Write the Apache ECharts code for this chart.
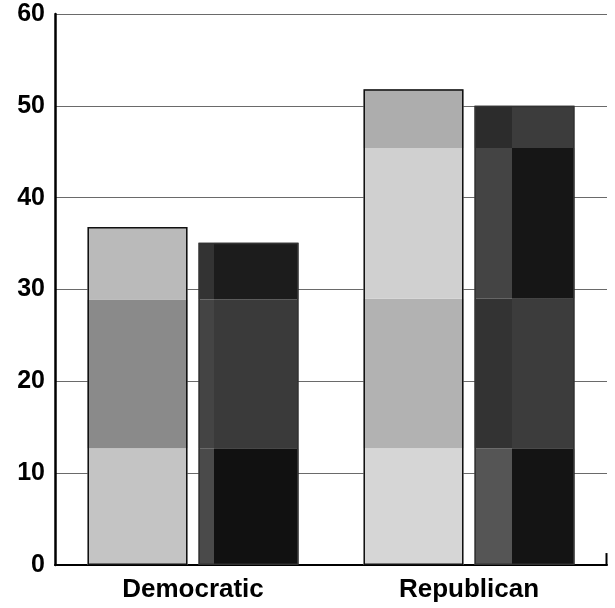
<!DOCTYPE html>
<html>
<head>
<meta charset="utf-8">
<style>html,body{margin:0;padding:0;background:#fff}#c{width:615px;height:608px}</style>
<script src="https://cdn.jsdelivr.net/npm/echarts@6/dist/echarts.min.js"></script>
</head>
<body>
<div id="c"></div>
<script>
var categories = ['Democratic', 'Republican'];
var yTicks = [0, 10, 20, 30, 40, 50, 60];
// light stack (left bar of each group), bottom to top
var lightSeg1 = [12.7, 12.7];
var lightSeg2 = [16.2, 16.3];
var lightSeg3 = [7.9, 16.4];
var lightSeg4 = [0, 6.4];
// dark stack (right bar of each group), bottom to top
var darkSeg1 = [12.7, 12.7];
var darkSeg2 = [16.2, 16.3];
var darkSeg3 = [6.2, 16.4];
var darkSeg4 = [0, 4.6];

function sum(arrs) {
  return arrs[0].map(function (_, i) {
    return +arrs.reduce(function (s, a) { return s + a[i]; }, 0).toFixed(2);
  });
}
var lightTotal = sum([lightSeg1, lightSeg2, lightSeg3, lightSeg4]);
var darkTotal = sum([darkSeg1, darkSeg2, darkSeg3, darkSeg4]);

function split(stop, left, right) {
  return new echarts.graphic.LinearGradient(0, 0, 1, 0, [
    {offset: 0, color: left}, {offset: stop, color: left},
    {offset: stop, color: right}, {offset: 1, color: right}
  ]);
}
var lightColors = [
  ['#c4c4c4', '#d6d6d6'],
  ['#8a8a8a', '#b2b2b2'],
  ['#bababa', '#d0d0d0'],
  ['#adadad', '#adadad']
];
var darkColors = [
  [split(0.15, '#4a4a4a', '#111111'), split(0.38, '#555555', '#141414')],
  [split(0.15, '#444444', '#3a3a3a'), split(0.38, '#333333', '#3c3c3c')],
  [split(0.15, '#333333', '#1c1c1c'), split(0.38, '#444444', '#161616')],
  [split(0.38, '#2c2c2c', '#3c3c3c'), split(0.38, '#2c2c2c', '#3c3c3c')]
];
var BW = 100, GAP = '11%';
function seg(name, stack, data, cols) {
  return {
    name: name, type: 'bar', stack: stack, xAxisIndex: 0, yAxisIndex: 0,
    barWidth: BW, barGap: GAP,
    data: data.map(function (v, i) { return {value: v, itemStyle: {color: cols[i]}}; }),
    itemStyle: {borderWidth: 0},
    silent: true, z: 2
  };
}
function outline(name, data, bc) {
  return {
    name: name, type: 'bar', xAxisIndex: 1, yAxisIndex: 0,
    barWidth: BW, barGap: GAP, data: data,
    itemStyle: {color: 'rgba(0,0,0,0)', borderColor: bc, borderWidth: 1.5},
    silent: true, z: 3
  };
}

var chart = echarts.init(document.getElementById('c'), null, {renderer: 'canvas'});
var font = '"Liberation Sans", Arial, Helvetica, sans-serif';
chart.setOption({
  animation: false,
  grid: {left: 55, right: 8, top: 14, bottom: 43},
  xAxis: [{
    type: 'category', data: categories,
    axisLine: {show: true, lineStyle: {color: '#000', width: 2}},
    axisTick: {show: false},
    axisLabel: {color: '#000', fontFamily: font, fontWeight: 'bold', fontSize: 26, margin: 12}
  }, {
    type: 'category', data: categories, show: false
  }],
  yAxis: [{
    type: 'value', min: 0, max: 60, interval: 10,
    axisLine: {show: true, lineStyle: {color: '#000', width: 2.5}},
    axisTick: {show: false},
    splitLine: {show: true, lineStyle: {color: '#6a6a6a', width: 1}},
    axisLabel: {color: '#000', fontFamily: font, fontWeight: 'bold', fontSize: 25, margin: 10,
      padding: [3, 0, 0, 0],
      formatter: function (v) { return yTicks.indexOf(v) >= 0 ? String(v) : ''; }}
  }],
  series: [
    seg('light1', 'light', lightSeg1, lightColors[0]),
    seg('dark1', 'dark', darkSeg1, darkColors[0]),
    seg('light2', 'light', lightSeg2, lightColors[1]),
    seg('dark2', 'dark', darkSeg2, darkColors[1]),
    seg('light3', 'light', lightSeg3, lightColors[2]),
    seg('dark3', 'dark', darkSeg3, darkColors[2]),
    seg('light4', 'light', lightSeg4, lightColors[3]),
    seg('dark4', 'dark', darkSeg4, darkColors[3]),
    outline('lightOutline', lightTotal, '#111'),
    outline('darkOutline', darkTotal, '#333')
  ]
});
// small end mark at the right end of the x axis
var gridRect = chart.getModel().getComponent('grid', 0).coordinateSystem.getRect();
var xEnd = gridRect.x + gridRect.width;
var yZero = chart.convertToPixel({yAxisIndex: 0}, 0);
var yMark = chart.convertToPixel({yAxisIndex: 0}, 1.3);
chart.setOption({
  graphic: [{
    type: 'line', shape: {x1: xEnd - 0.5, y1: yZero, x2: xEnd - 0.5, y2: yMark},
    style: {stroke: '#000', lineWidth: 2}, z: 10
  }]
});
</script>
</body>
</html>
